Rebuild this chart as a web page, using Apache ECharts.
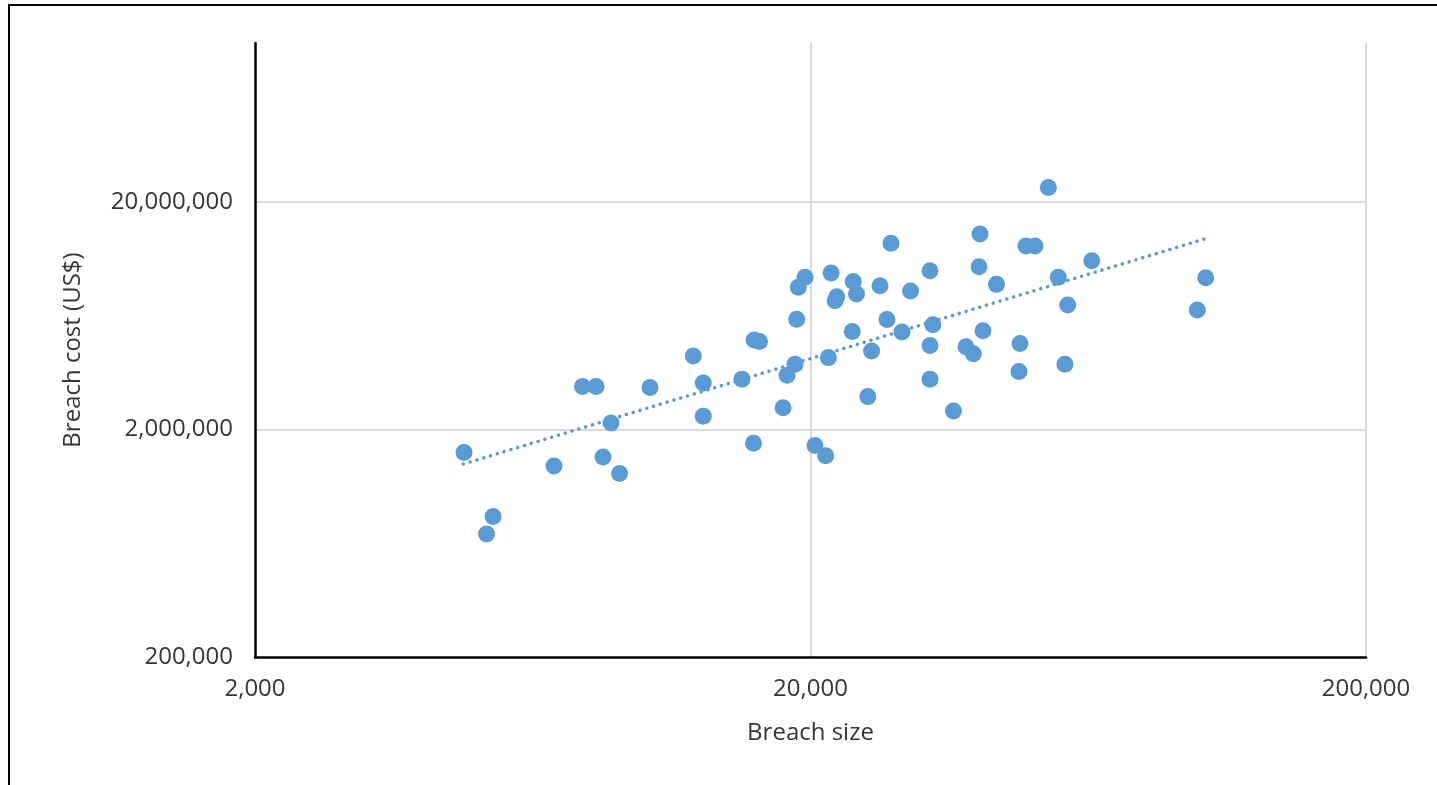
<!DOCTYPE html>
<html>
<head>
<meta charset="utf-8">
<style>
html,body{margin:0;padding:0;background:#fff;}
#chart{width:1437px;height:785px;}
</style>
<script src="https://cdn.jsdelivr.net/npm/echarts@6/dist/echarts.min.js"></script>
</head>
<body>
<div id="chart"></div>
<script>
// ---- data ----
const breachSize = [4757, 5222, 5365, 6908, 7772, 8222, 8462, 8748, 9062, 10282,
  12304, 12824, 12824, 15054, 15826, 16188, 15792, 17848, 18146, 18756,
  18890, 19014, 19550, 20374, 21300, 21540, 21780, 22300, 22140, 23780,
  23880, 24200, 25360, 25760, 26680, 27460, 27920, 29220, 30280, 32820,
  32820, 32820, 33220, 36180, 38100, 39280, 40380, 40220, 40880, 43240,
  47460, 47660, 48860, 50720, 53600, 55860, 57420, 58080, 64160, 99400, 102920];
const breachCost = [1585000, 694600, 829000, 1382000, 3090000, 3090000, 1514000, 2136000, 1282000, 3060000,
  4210000, 3200000, 2290000, 3330000, 4950000, 4870000, 1740000, 2490000, 3460000, 3870000,
  6100000, 8440000, 9330000, 1700000, 1534000, 4140000, 9750000, 7670000, 7370000, 5390000,
  8950000, 7880000, 2790000, 4430000, 8570000, 6090000, 13170000, 5370000, 8130000, 9980000,
  4680000, 3330000, 5770000, 2410000, 4620000, 4310000, 14470000, 10390000, 5440000, 8690000,
  3600000, 4780000, 12810000, 12810000, 23160000, 9330000, 3870000, 7050000, 11040000, 6700000, 9300000];
const trendSize = [4742, 102800];
const trendCost = [1410000, 13800000];
const xTickLabels = ['2,000', '20,000', '200,000'];
const yTickLabels = ['200,000', '2,000,000', '20,000,000'];
const xBase = 2000, yBase = 200000, yTop = 100000000;

// log-decade coordinates relative to the axis minimum
const lx = v => Math.log10(v / xBase);
const ly = v => Math.log10(v / yBase);

const points = breachSize.map((s, i) => [lx(s), ly(breachCost[i])]);
const trend = trendSize.map((s, i) => [lx(s), ly(trendCost[i])]);

const FONT = '"Open Sans", "Liberation Sans", sans-serif';
const TXT = '#363636';
const BLUE = '#5B9BD5';

const chart = echarts.init(document.getElementById('chart'), null, {renderer: 'canvas'});
chart.setOption({
  animation: false,
  backgroundColor: '#ffffff',
  grid: {left: 255, right: 71, top: 43, bottom: 128, containLabel: false},
  xAxis: {
    type: 'value', min: 0, max: 2, interval: 1,
    name: 'Breach size', nameLocation: 'middle', nameGap: 64,
    nameTextStyle: {fontFamily: FONT, fontSize: 24, color: TXT},
    axisLine: {show: true, onZero: false, lineStyle: {color: '#000', width: 2.5}},
    axisTick: {show: false},
    axisLabel: {
      margin: 20, fontFamily: FONT, fontSize: 24, color: TXT,
      formatter: v => xTickLabels[Math.round(v)] || ''
    },
    splitLine: {show: true, showMinLine: false, lineStyle: {color: '#d9d9d9', width: 2}}
  },
  yAxis: {
    type: 'value', min: 0, max: ly(yTop), interval: 1,
    name: 'Breach cost (US$)', nameLocation: 'middle', nameGap: 170, nameRotate: 90,
    nameTextStyle: {fontFamily: FONT, fontSize: 24, color: TXT},
    axisLine: {show: true, onZero: false, lineStyle: {color: '#000', width: 2.5}},
    axisTick: {show: false},
    axisLabel: {
      margin: 22, fontFamily: FONT, fontSize: 24, color: TXT, showMaxLabel: false,
      formatter: v => {
        const r = Math.round(v);
        return Math.abs(v - r) < 1e-6 ? (yTickLabels[r] || '') : '';
      }
    },
    splitLine: {show: true, showMinLine: false, showMaxLine: false, lineStyle: {color: '#d9d9d9', width: 2}}
  },
  series: [
    {
      type: 'scatter', data: points, symbol: 'circle', symbolSize: 17,
      itemStyle: {color: BLUE, opacity: 1}, z: 3
    },
    {
      type: 'line', data: trend, showSymbol: false, symbol: 'none', silent: true,
      lineStyle: {color: BLUE, width: 3.5, type: [0.1, 7], cap: 'round'}, z: 2
    }
  ],
  graphic: [
    {type: 'line', shape: {x1: 8, y1: 5, x2: 1437, y2: 5}, style: {stroke: '#000', lineWidth: 2}},
    {type: 'line', shape: {x1: 9, y1: 4, x2: 9, y2: 785}, style: {stroke: '#000', lineWidth: 2}}
  ]
});
</script>
</body>
</html>
